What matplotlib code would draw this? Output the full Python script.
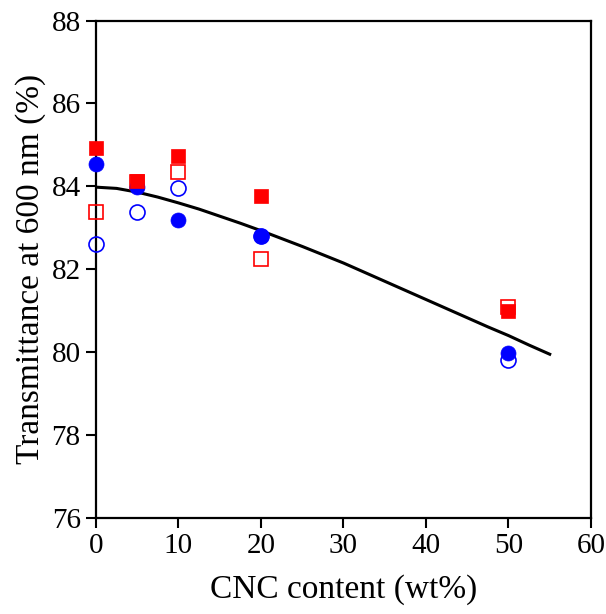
import matplotlib
matplotlib.use("Agg")
import matplotlib.pyplot as plt

plt.rcParams['font.family'] = ['Liberation Serif', 'DejaVu Serif']

cnc = [0, 5, 10, 20, 50]
red_filled = [84.92, 84.12, 84.72, 83.76, 80.99]
red_open = [83.37, 84.10, 84.34, 82.24, 81.08]
blue_filled = [84.53, 83.98, 83.18, 82.80, 79.98]
blue_open = [82.60, 83.37, 83.95, 82.80, 79.81]

fit_x = [0, 2.5, 5, 7.5, 10, 12.5, 15, 17.5, 20, 22.5, 25, 27.5, 30, 32.5, 35, 37.5,
         40, 42.5, 45, 47.5, 50, 52.5, 55]
fit_y = [83.98, 83.95, 83.86, 83.74, 83.60, 83.45, 83.28, 83.11, 82.93, 82.74, 82.55,
         82.35, 82.15, 81.93, 81.71, 81.49, 81.27, 81.05, 80.83, 80.61, 80.40, 80.17, 79.95]

xticks = [0, 10, 20, 30, 40, 50, 60]
yticks = [76, 78, 80, 82, 84, 86, 88]

fig = plt.figure(figsize=(6.06, 6.14), dpi=100)
ax = fig.add_axes([0.1584, 0.1564, 0.8168, 0.8102])

ax.plot(fit_x, fit_y, color='black', lw=2.2, zorder=2)
ax.plot(cnc, blue_open, 'o', ms=10.8, mfc='none', mec='blue', mew=1.2, ls='none', zorder=3, clip_on=False)
ax.plot(cnc, red_open, 's', ms=9.4, mfc='none', mec='red', mew=1.2, ls='none', zorder=3, clip_on=False)
ax.plot(cnc, blue_filled, 'o', ms=10.8, mfc='blue', mec='blue', mew=0.5, ls='none', zorder=4, clip_on=False)
ax.plot(cnc, red_filled, 's', ms=9.4, mfc='red', mec='red', mew=0.5, ls='none', zorder=4, clip_on=False)

ax.set_xlim(0, 60)
ax.set_ylim(76, 88)
ax.set_xticks(xticks)
ax.set_yticks(yticks)
ax.tick_params(direction='out', length=7, width=1.5, labelsize=21, pad=4)
for s in ax.spines.values():
    s.set_linewidth(1.6)

ax.set_xlabel('CNC content (wt%)', fontsize=24, labelpad=11)
ax.set_ylabel('Transmittance at 600 nm (%)', fontsize=24, labelpad=4)

fig.savefig('out.png', dpi=100)
